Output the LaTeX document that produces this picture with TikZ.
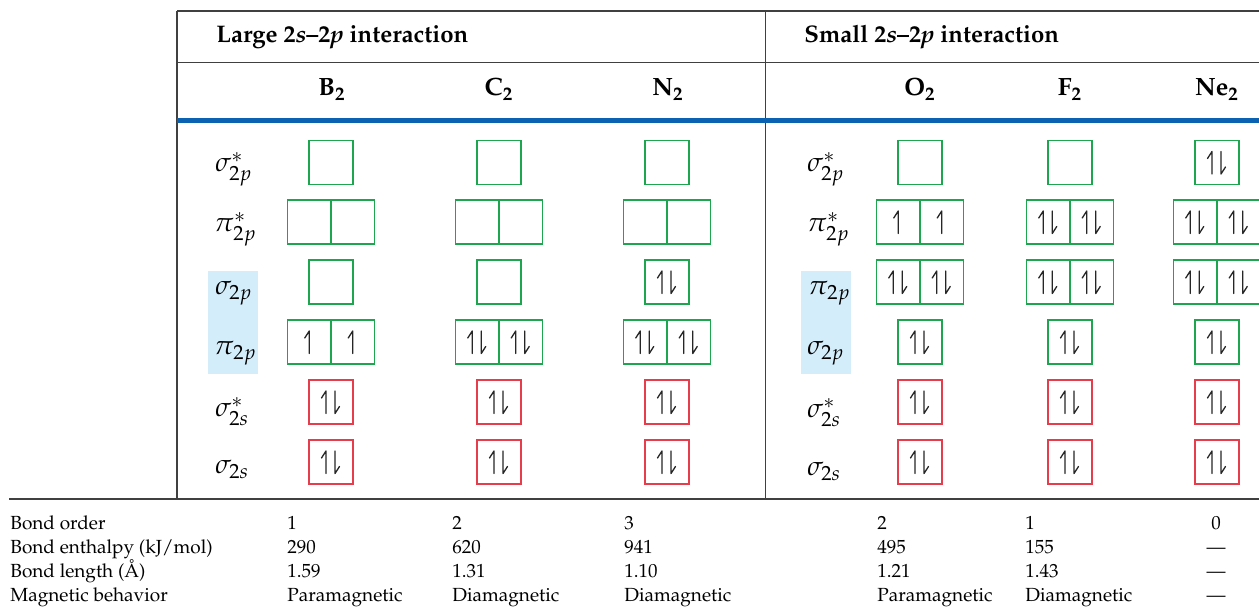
\documentclass[tikz,border=0pt]{standalone}
\usepackage[T1]{fontenc}
\usepackage{mathpazo}
\definecolor{orbgreen}{HTML}{1DA64F}
\definecolor{orbred}{HTML}{E63C4C}
\definecolor{rulebl}{HTML}{0B62B0}
\definecolor{hilite}{HTML}{D3EDFA}
\definecolor{framec}{HTML}{404040}
\tikzset{
  orb/.style={draw=orbgreen, line width=0.9pt, minimum width=22pt, minimum height=22pt, inner sep=0pt, outer sep=0pt},
  orbs/.style={orb, draw=orbred},
  half/.style={orb, minimum width=21.75pt},
  arr/.style={line width=0.65pt, draw=black!85, line cap=round, line join=round},
  uph/.pic={\draw[arr] (0,11.5) -- (0,-11) -- (-4.5,-4);},
  dnh/.pic={\draw[arr] (0,-11) -- (0,11.5) -- (4.5,4.5);},
  framel/.style={draw=framec, line width=0.75pt},
  lab/.style={inner sep=0pt, font=\fontsize{13.5}{15}\selectfont},
  hdr/.style={inner sep=0pt, font=\fontsize{12}{14}\selectfont\bfseries},
  mol/.style={inner sep=0pt, font=\fontsize{12.5}{15}\selectfont\bfseries},
  tab/.style={inner sep=0pt, font=\fontsize{9.5}{12}\selectfont}
}
\newcommand\opair[1]{\pic at ([xshift=-2.5pt]#1.center) {uph}; \pic at ([xshift=2pt]#1.center) {dnh};}
\newcommand\oone[1]{\pic at (#1.center) {uph};}
\begin{document}
\begin{tikzpicture}[x=0.5pt, y=-0.5pt]
\useasboundingbox (0,0) rectangle (1259,613);
\clip (0,0) rectangle (1259,613);
\fill[white] (0,0) rectangle (1259,613);
% highlights
\fill[hilite] (207.7,271) rectangle (258,373.7);
\fill[hilite] (800.7,271) rectangle (850.7,373.7);
% frame
\draw[framel] (177,11) -- (1260,11);
\draw[framel] (177,62.3) -- (1260,62.3);
\draw[framel] (177,11) -- (177,499);
\draw[framel] (765.7,11) -- (765.7,499);
\draw[framel] (9,499) -- (1260,499);
\draw[draw=rulebl, line width=2.6pt] (177,120.7) -- (1260,120.7);
% headers
\node[hdr, anchor=base west] (hL) at (216,43) {Large 2\emph{s}--2\emph{p} interaction};
\node[hdr, anchor=base west] (hS) at (804,43) {Small 2\emph{s}--2\emph{p} interaction};
\node[mol, anchor=base] (mB) at (332,96) {B\textsubscript{2}};
\node[mol, anchor=base] (mC) at (499,96) {C\textsubscript{2}};
\node[mol, anchor=base] (mN) at (668,96) {N\textsubscript{2}};
\node[mol, anchor=base] (mO) at (920,96) {O\textsubscript{2}};
\node[mol, anchor=base] (mF) at (1070,96) {F\textsubscript{2}};
\node[mol, anchor=base] (mNe) at (1217,96) {Ne\textsubscript{2}};
% row labels left
\node[lab, anchor=base west] (l1) at (215,172) {$\sigma^*_{2p}$};
\node[lab, anchor=base west] (l2) at (214,232) {$\pi^*_{2p}$};
\node[lab, anchor=base west] (l3) at (215,295) {$\sigma_{2p}$};
\node[lab, anchor=base west] (l4) at (214,355) {$\pi_{2p}$};
\node[lab, anchor=base west] (l5) at (215,417) {$\sigma^*_{2s}$};
\node[lab, anchor=base west] (l6) at (215,474) {$\sigma_{2s}$};
% row labels right
\node[lab, anchor=base west] (r1) at (807,172) {$\sigma^*_{2p}$};
\node[lab, anchor=base west] (r2) at (807,232) {$\pi^*_{2p}$};
\node[lab, anchor=base west] (r3) at (808,295) {$\pi_{2p}$};
\node[lab, anchor=base west] (r4) at (807,355) {$\sigma_{2p}$};
\node[lab, anchor=base west] (r5) at (807,418) {$\sigma^*_{2s}$};
\node[lab, anchor=base west] (r6) at (807,476) {$\sigma_{2s}$};
% boxes left group
\foreach \n/\x in {B/331,C/499,N/667}{
  \node[orb] (\n-sgs) at (\x,162.5) {};
  \node[half] (\n-pgsL) at (\x-21.75,222) {};
  \node[half] (\n-pgsR) at (\x+21.75,222) {};
  \node[orb] (\n-sg) at (\x,282) {};
  \node[half] (\n-pgL) at (\x-21.75,342) {};
  \node[half] (\n-pgR) at (\x+21.75,342) {};
  \node[orbs] (\n-sss) at (\x,402) {};
  \node[orbs] (\n-ss) at (\x,462) {};
}
% boxes right group
\foreach \n/\x in {O/920,F/1070,Ne/1217}{
  \node[orb] (\n-sgs) at (\x,162.5) {};
  \node[half] (\n-pgsL) at (\x-21.75,222) {};
  \node[half] (\n-pgsR) at (\x+21.75,222) {};
  \node[half] (\n-pgL) at (\x-21.75,282) {};
  \node[half] (\n-pgR) at (\x+21.75,282) {};
  \node[orb] (\n-sg) at (\x,342) {};
  \node[orbs] (\n-sss) at (\x,402) {};
  \node[orbs] (\n-ss) at (\x,462) {};
}
% electrons
\oone{B-pgL} \oone{B-pgR} \opair{B-sss} \opair{B-ss}
\opair{C-pgL} \opair{C-pgR} \opair{C-sss} \opair{C-ss}
\opair{N-sg} \opair{N-pgL} \opair{N-pgR} \opair{N-sss} \opair{N-ss}
\oone{O-pgsL} \oone{O-pgsR} \opair{O-pgL} \opair{O-pgR} \opair{O-sg} \opair{O-sss} \opair{O-ss}
\opair{F-pgsL} \opair{F-pgsR} \opair{F-pgL} \opair{F-pgR} \opair{F-sg} \opair{F-sss} \opair{F-ss}
\opair{Ne-sgs} \opair{Ne-pgsL} \opair{Ne-pgsR} \opair{Ne-pgL} \opair{Ne-pgR} \opair{Ne-sg} \opair{Ne-sss} \opair{Ne-ss}
% bottom table
\node[tab, anchor=base west] (t1) at (10,530) {Bond order};
\node[tab, anchor=base west] (t2) at (10,554) {Bond enthalpy (kJ/mol)};
\node[tab, anchor=base west] (t3) at (10,578) {Bond length (\AA)};
\node[tab, anchor=base west] (t4) at (10,602) {Magnetic behavior};
\node[tab, anchor=base west] (b1) at (287,530) {1};
\node[tab, anchor=base west] (b2) at (287,554) {290};
\node[tab, anchor=base west] (b3) at (287,578) {1.59};
\node[tab, anchor=base west] (b4) at (287,602) {Paramagnetic};
\node[tab, anchor=base west] (c1) at (452,530) {2};
\node[tab, anchor=base west] (c2) at (452,554) {620};
\node[tab, anchor=base west] (c3) at (452,578) {1.31};
\node[tab, anchor=base west] (c4) at (452,602) {Diamagnetic};
\node[tab, anchor=base west] (n1) at (624,530) {3};
\node[tab, anchor=base west] (n2) at (624,554) {941};
\node[tab, anchor=base west] (n3) at (624,578) {1.10};
\node[tab, anchor=base west] (n4) at (624,602) {Diamagnetic};
\node[tab, anchor=base west] (o1) at (877,530) {2};
\node[tab, anchor=base west] (o2) at (877,554) {495};
\node[tab, anchor=base west] (o3) at (877,578) {1.21};
\node[tab, anchor=base west] (o4) at (877,602) {Paramagnetic};
\node[tab, anchor=base west] (f1) at (1025,530) {1};
\node[tab, anchor=base west] (f2) at (1025,554) {155};
\node[tab, anchor=base west] (f3) at (1025,578) {1.43};
\node[tab, anchor=base west] (f4) at (1025,602) {Diamagnetic};
\node[tab, anchor=base] (e1) at (1216,530) {0};
\node[tab, anchor=base] (e2) at (1216,554) {---};
\node[tab, anchor=base] (e3) at (1216,578) {---};
\node[tab, anchor=base] (e4) at (1216,602) {---};
\end{tikzpicture}
\end{document}
